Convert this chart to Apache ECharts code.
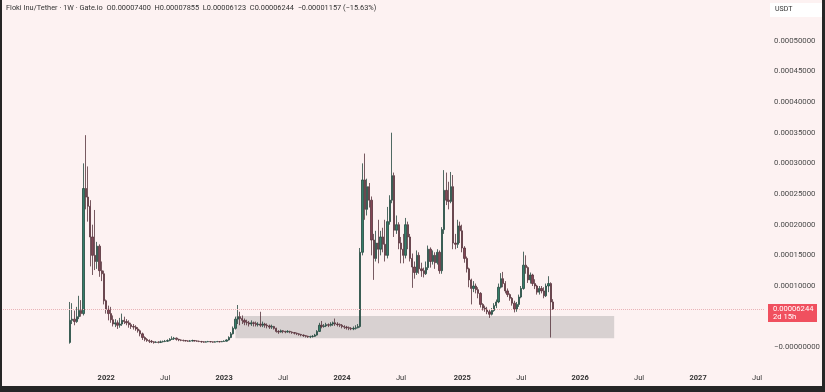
<!DOCTYPE html>
<html><head><meta charset="utf-8">
<script src="https://cdn.jsdelivr.net/npm/echarts@6/dist/echarts.min.js"></script>
<style>
html,body{margin:0;padding:0;background:#262626;width:825px;height:392px;overflow:hidden}
#c{position:absolute;left:2px;top:0;width:820px;height:386px;background:#fdf2f2}
</style></head><body><div id="c"></div>
<script>
// ---- data (prices in micro-USDT, i.e. x 1e-6) ----
const PRICE_UNIT = 1e-6;
const AXIS_START_WEEK = '2021-02-22';
const AXIS_WEEK_COUNT = 336;
const FIRST_BAR = '2021-09-13';
const FIRST_OPEN = 8;
const closes = [
 44,46,42,50,60,55,259,245,230,180,
 150,140,165,125,120,76,62,55,45,38,
 40,36,38,44,42,40,37,34,33,30,
 27,22,16,13,11,10,9,8,8.5,8,
 9,9.5,10,11,13,14,15,13,12,11.5,
 11,10.5,10,10.5,11,10.5,10,9.5,9,8.5,
 9,9.5,9,8.5,9,9.5,9,9.5,10,12,
 16,22,31,46,50,47,44,41,40,38,
 40,39,37,38,36,38,36,35,33,34,
 31,26,25,27,26,25,26,25,24,23,
 22,21,20,19,18,17,17.5,18,20,26,
 36,34,35,37,36,38,40,38,37,36,
 34,33,32,31,30,31,32,34,155,273,
 225,262,240,175,145,170,160,180,168,150,
 205,240,280,191,200,170,160,150,200,180,
 145,131,122,150,128,125,120,130,160,140,
 150,138,155,125,192,256,240,238,262,170,
 168,198,190,162,145,128,110,96,100,94,
 88,70,64,62,58,54,60,68,74,98,
 112,104,92,86,80,72,62,70,82,96,
 134,130,110,118,104,100,90,96,92,84,
 100,104,74,62.44
];
const highs = [
 74,72,60,66,84,77,300,346,295,240,
 200,224,172,168,140,125,78,68,66,52,
 46,44,48,55,50,46,44,40,38,36,
 33,29,24,18,15,13,12,10,10,10,
 11,11,12,13,15,18,17,16,14,13,
 12.5,12,11.5,12,12.5,12,11.5,11,10.5,10,
 10,10.5,10,9.5,10,10.5,10,10.5,11.5,13,
 18,25,34,50,69,58,52,47,45,43,
 44,42,42,41,58,42,40,39,37,37,
 35,32,28,29,28,27,28,27,26,25,
 24,23,22,21,20,19,19,20,22,28,
 40,43,38,40,39,41,42,47,41,39,
 38,36,35,34,33,34,36,38,162,300,
 316,275,268,246,185,190,208,190,195,208,
 229,248,350,285,215,204,180,185,211,205,
 185,153,140,158,155,138,130,140,166,163,
 158,155,160,158,196,289,285,270,286,281,
 185,208,205,200,165,148,130,112,108,104,
 98,90,72,68,66,62,64,72,78,104,
 121,123,108,96,88,82,76,74,86,100,
 156,150,132,122,120,111,102,100,100,98,
 104,116,106,78.55
];
const lows = [
 6,38,36,40,46,50,52,225,205,132,
 118,126,128,115,108,70,55,44,40,34,
 33,30,32,35,38,36,32,30,29,27,
 24,18,12,10,9,7,7,6,7,6.5,
 7,8,8.5,9,10,12,12,11,10,10,
 9.5,9.5,9,9,9.5,9.5,9,8.5,7.5,7.5,
 8,8.5,8,7.5,8,8.5,8,8.5,9,9.5,
 11,15,21,29,38,36,38,36,36,34,
 35,34,34,34,33,33,32,31,30,30,
 29,24,22,24,23,23,24,23,22,21,
 20,19,18,17,16,15.5,15,16,17,19,
 25,31,32,33,33,34,35,35,34,33,
 31,30,29,28,28,28,29,31,32,150,
 208,215,228,150,110,140,137,150,155,140,
 145,200,235,180,185,160,137,137,145,160,
 140,97,112,118,120,115,114,118,126,130,
 135,128,135,120,120,185,232,225,235,160,
 160,162,170,155,138,122,98,70,90,88,
 80,65,60,58,54,48,52,58,64,72,
 96,98,88,82,76,68,57,58,66,80,
 94,120,105,104,100,95,86,86,88,80,
 82,90,16,61.23
];
// reported change of the live bar (micro-USDT, percent) as shown in the header
const LAST_CHANGE = -11.57;
const LAST_CHANGE_PCT = -15.63;
const ZONE_DATES = ['2023-02-06', '2026-04-20'];
const ZONE_PRICES = [14.8, 51];
const COUNTDOWN = '2d 15h';
const TITLE_PREFIX = 'Floki Inu/Tether · 1W · Gate.io';
const Y_MIN = -50, Y_MAX = 600, Y_STEP = 50;

// ---- build ----
const fmt = v => (v * PRICE_UNIT).toFixed(8);
const categories = [];
(function(){
  const p = AXIS_START_WEEK.split('-').map(Number);
  const t0 = Date.UTC(p[0], p[1]-1, p[2]);
  for (let i = 0; i < AXIS_WEEK_COUNT; i++) {
    categories.push(new Date(t0 + i*7*86400000).toISOString().slice(0,10));
  }
})();
const firstIdx = categories.indexOf(FIRST_BAR);
const candleData = categories.map((c, i) => {
  const j = i - firstIdx;
  if (j < 0 || j >= closes.length) return ['-','-','-','-'];
  const o = j === 0 ? FIRST_OPEN : closes[j-1];
  return [o, closes[j], lows[j], highs[j]];
});
const n = closes.length;
const lastO = closes[n-2], lastC = closes[n-1], lastH = highs[n-1], lastL = lows[n-1];
const sign = LAST_CHANGE < 0 ? '\u2212' : '+';
const titleText = TITLE_PREFIX + '  O' + fmt(lastO) + '  H' + fmt(lastH) + '  L' + fmt(lastL) +
  '  C' + fmt(lastC) + '  ' + sign + fmt(Math.abs(LAST_CHANGE)) + ' (' + sign + Math.abs(LAST_CHANGE_PCT).toFixed(2) + '%)';

const chart = echarts.init(document.getElementById('c'));
const GRID_LEFT = 1, GRID_W = 762, GRID_TOP = -20.6, GRID_H = 398.6;
chart.setOption({
  animation: false,
  backgroundColor: '#fdf2f2',
  textStyle: { fontFamily: "Roboto, 'Noto Sans', sans-serif" },
  title: { text: titleText, left: 4, top: 5, padding: 0,
    textStyle: { fontSize: 7.4, fontWeight: 'normal', color: '#333' } },
  grid: { left: GRID_LEFT, top: GRID_TOP, width: GRID_W, height: GRID_H, containLabel: false, outerBoundsMode: 'none' },
  xAxis: {
    type: 'category', data: categories, boundaryGap: true,
    axisLine: { show: false }, axisTick: { show: false }, splitLine: { show: false },
    axisLabel: {
      margin: -4, fontSize: 7.5, color: '#333',
      interval: (i, v) => { const m = +v.slice(5,7), d = +v.slice(8,10); return v >= FIRST_BAR && (m === 1 || m === 7) && d <= 7; },
      formatter: v => (+v.slice(5,7) === 1) ? '{y|' + v.slice(0,4) + '}' : 'Jul',
      rich: { y: { fontWeight: 'bold', fontSize: 7.5, color: '#333' } }
    }
  },
  yAxis: {
    type: 'value', position: 'right', min: Y_MIN, max: Y_MAX, interval: Y_STEP, scale: false,
    axisLine: { show: false }, axisTick: { show: false }, splitLine: { show: false },
    axisLabel: { margin: 9, fontSize: 7.8, color: '#4a4a4a',
      formatter: v => v === 0 ? '\u22120.00000000' : (v < 0 || v > 500 || v === 50) ? '' : fmt(v) }
  },
  series: [{
    type: 'candlestick', data: candleData, barWidth: 1.8,
    itemStyle: { color: '#357e6a', color0: '#844656', borderColor: '#23463d', borderColor0: '#55323b', borderWidth: 0.8 },
    markArea: { silent: true, itemStyle: { color: '#d8d1d1' },
      data: [[{ xAxis: ZONE_DATES[0], yAxis: ZONE_PRICES[0] }, { xAxis: ZONE_DATES[1], yAxis: ZONE_PRICES[1] }]] },
    markLine: { silent: true, symbol: 'none', label: { show: false },
      lineStyle: { color: '#e9b3b7', type: 'dotted', width: 1 },
      data: [{ yAxis: lastC }] }
  }]
});

const py = chart.convertToPixel({ yAxisIndex: 0 }, lastC);
const rx = GRID_LEFT + GRID_W + 3;
chart.setOption({
  graphic: [
    { type: 'rect', left: 768, top: 3, shape: { width: 52, height: 14 }, style: { fill: '#ffffff' }, z: 100 },
    { type: 'text', left: 773, top: 6, style: { text: 'USDT', fontSize: 7, fill: '#333', fontFamily: "Roboto, sans-serif" }, z: 101 },
    { type: 'rect', x: rx, y: py - 5, shape: { width: 49, height: 18 }, style: { fill: '#f0505f' }, z: 100 },
    { type: 'text', x: rx + 5, y: py - 4, style: { text: fmt(lastC) + '\n' + COUNTDOWN, fontSize: 7.6, lineHeight: 8, fill: '#ffffff', fontFamily: "Roboto, sans-serif" }, z: 101 }
  ]
});
</script></body></html>
